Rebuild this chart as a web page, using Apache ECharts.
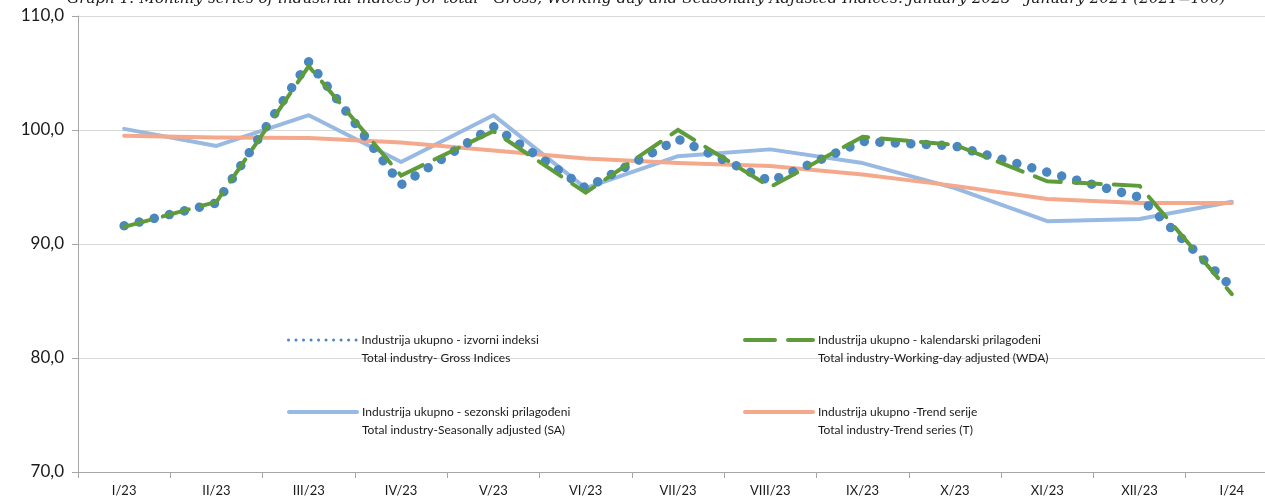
<!DOCTYPE html>
<html>
<head>
<meta charset="utf-8">
<script src="https://cdn.jsdelivr.net/npm/echarts@6/dist/echarts.min.js"></script>
<style>
html,body{margin:0;padding:0;background:#fff;overflow:hidden;width:1265px;height:498px;}
#chart{width:1280px;height:498px;}
</style>
</head>
<body>
<div id="chart"></div>
<script>
const categories = ['I/23','II/23','III/23','IV/23','V/23','VI/23','VII/23','VIII/23','IX/23','X/23','XI/23','XII/23','I/24'];
const grossValues = [91.6, 93.6, 106.0, 95.2, 100.3, 94.9, 99.2, 95.5, 99.0, 98.6, 96.3, 94.1, 86.2];
const wdaValues   = [91.5, 93.7, 105.6, 96.0, 99.9, 94.5, 100.0, 95.0, 99.4, 98.7, 95.5, 95.1, 85.6];
const saValues    = [100.1, 98.6, 101.3, 97.2, 101.3, 94.9, 97.7, 98.3, 97.1, 94.9, 92.0, 92.2, 93.7];
const trendValues = [99.5, 99.35, 99.3, 98.9, 98.2, 97.5, 97.1, 96.85, 96.1, 95.1, 93.95, 93.6, 93.6];
const yTicks = [70, 80, 90, 100, 110];
const seriesNames = [
  'Industrija ukupno - izvorni indeksi\nTotal industry- Gross Indices',
  'Industrija ukupno - kalendarski prilagođeni\nTotal industry-Working-day adjusted (WDA)',
  'Industrija ukupno - sezonski prilagođeni\nTotal industry-Seasonally adjusted (SA)',
  'Industrija ukupno -Trend serije\nTotal industry-Trend series (T)'
];
const titleText = 'Graph 1: Monthly series of industrial indices for total - Gross, Working-day and Seasonally Adjusted Indices. January 2023 - January 2024 (2021=100)';

const cGross = '#4a87c1', cWda = '#5d9b3b', cSa = '#98b9e1', cTrend = '#f4a98c';
const font = 'Lato, "Liberation Sans", sans-serif';

function mkLegend(name, left, top, lineStyle) {
  return {
    data: [name], left: left, top: top, padding: 0, orient: 'vertical',
    itemWidth: 68, itemHeight: 10, itemGap: 0,
    lineStyle: lineStyle,
    itemStyle: { opacity: 0 },
    selectedMode: false,
    formatter: n => '\n' + n,
    textStyle: { fontFamily: font, fontSize: 12, color: '#1a1a1a', lineHeight: 18 }
  };
}

const chart = echarts.init(document.getElementById('chart'), null, { renderer: 'canvas' });
chart.setOption({
  animation: false,
  backgroundColor: '#fff',
  title: {
    text: titleText, left: 67, top: -8, padding: 0,
    textStyle: { fontFamily: '"DejaVu Serif", serif', fontStyle: 'italic', fontWeight: 'normal', fontSize: 15.2, color: '#1a1a1a' }
  },
  grid: { left: 78, top: 16, right: 2, bottom: 26, containLabel: false },
  legend: [
    mkLegend(seriesNames[0], 287, 313, { width: 3, type: [0.01, 7.5], cap: 'round', color: cGross }),
    mkLegend(seriesNames[1], 743, 313, { width: 4, type: [30, 13], cap: 'round', color: cWda }),
    mkLegend(seriesNames[2], 287, 385, { width: 4, type: 'solid', cap: 'round', color: cSa }),
    mkLegend(seriesNames[3], 743, 385, { width: 4, type: 'solid', cap: 'round', color: cTrend })
  ],
  xAxis: {
    type: 'category', data: categories, boundaryGap: true,
    axisLine: { lineStyle: { color: '#a6a6a6', width: 1 } },
    axisTick: { show: true, alignWithLabel: false, length: 6, lineStyle: { color: '#a6a6a6' } },
    axisLabel: { fontFamily: font, fontSize: 13, color: '#1a1a1a', margin: 12 },
    splitLine: { show: false }
  },
  yAxis: {
    type: 'value', min: yTicks[0], max: yTicks[yTicks.length - 1], interval: 10,
    axisLine: { show: true, lineStyle: { color: '#a6a6a6', width: 1 } },
    axisTick: { show: true, length: 6, lineStyle: { color: '#a6a6a6' } },
    axisLabel: { fontFamily: font, fontSize: 17, color: '#1a1a1a', margin: 14,
      formatter: v => v.toFixed(1).replace('.', ',') },
    splitLine: { show: true, lineStyle: { color: '#d9d9d9', width: 1 } }
  },
  series: [
    { name: seriesNames[2], type: 'line', data: saValues, symbol: 'none', z: 2,
      itemStyle: { color: cSa }, lineStyle: { color: cSa, width: 4, cap: 'round', join: 'round' } },
    { name: seriesNames[3], type: 'line', data: trendValues, symbol: 'none', z: 3,
      itemStyle: { color: cTrend }, lineStyle: { color: cTrend, width: 4, cap: 'round', join: 'round' } },
    { name: seriesNames[0], type: 'line', data: grossValues, symbol: 'none', z: 4,
      itemStyle: { color: cGross }, lineStyle: { color: cGross, width: 9.5, type: [0.01, 15.5], cap: 'round', join: 'round' } },
    { name: seriesNames[1], type: 'line', data: wdaValues, symbol: 'none', z: 5,
      itemStyle: { color: cWda }, lineStyle: { color: cWda, width: 4, type: [27, 13], cap: 'round', join: 'miter' } }
  ]
});
</script>
</body>
</html>
